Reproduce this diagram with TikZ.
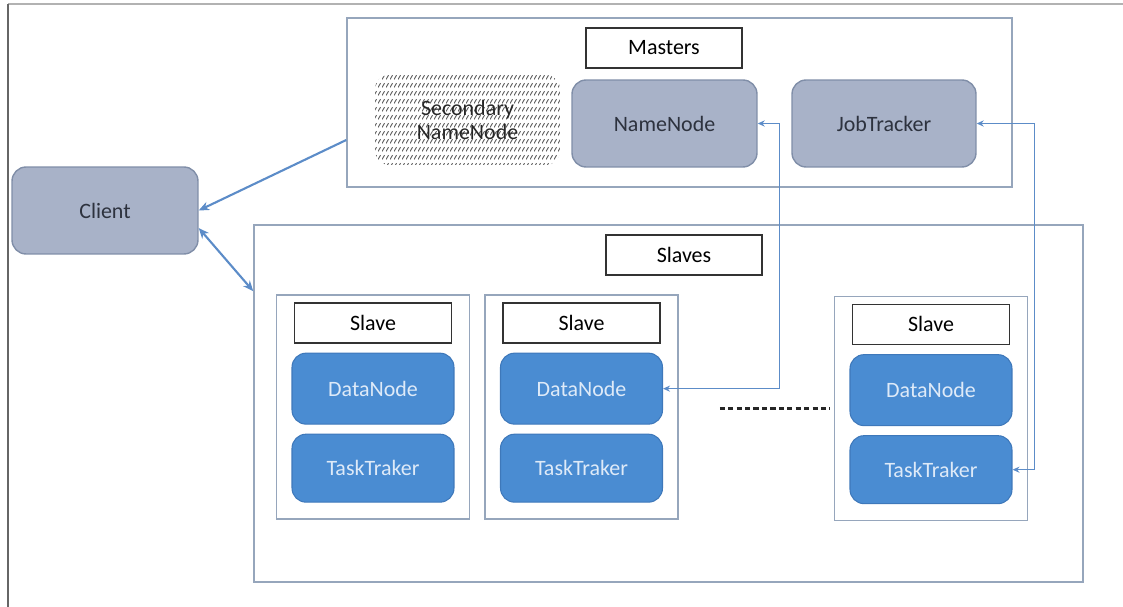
\documentclass[tikz,border=0pt]{standalone}
\usepackage{fontspec}
\setmainfont{Carlito}
\usetikzlibrary{arrows.meta,positioning,patterns.meta}

\definecolor{hostgray}{RGB}{168,178,200}
\definecolor{hostedge}{RGB}{128,142,168}
\definecolor{hosttext}{RGB}{45,50,62}
\definecolor{daemonblue}{RGB}{74,140,210}
\definecolor{daemonedge}{RGB}{62,120,186}
\definecolor{daemontext}{RGB}{222,234,248}
\definecolor{groupedge}{RGB}{150,166,188}
\definecolor{linkblue}{RGB}{92,140,200}

% rows of short slanted strokes for the standby master
\tikzdeclarepattern{
  name=slantrows,
  type=uncolored,
  bounding box={(0pt,0pt) and (2.2pt,4.8pt)},
  tile size={(2.2pt,4.8pt)},
  code={\draw[line width=0.55pt] (0pt,0.9pt) -- (1.5pt,3.5pt);}
}

\tikzset{
  host/.style={rectangle, rounded corners=8pt, draw=hostedge, line width=0.8pt,
    fill=hostgray, text=hosttext, minimum width=3.7cm, minimum height=1.74cm},
  standby/.style={rectangle, rounded corners=8pt, pattern=slantrows,
    pattern color=black!62, text=black!85, align=center,
    minimum width=3.7cm, minimum height=1.8cm},
  daemon/.style={rectangle, rounded corners=8pt, draw=daemonedge, line width=0.6pt,
    fill=daemonblue, text=daemontext, minimum width=3.24cm, minimum height=1.42cm},
  tag/.style={rectangle, draw=black!80, line width=0.8pt, fill=white,
    minimum width=3.12cm, minimum height=0.8cm},
  group/.style={rectangle, draw=groupedge, line width=0.9pt},
  tolink/.style={draw=linkblue, line width=1.2pt, arrows={Stealth[length=6pt,width=5pt]-}},
  bothlink/.style={draw=linkblue, line width=1.2pt,
    arrows={Stealth[length=6pt,width=5pt]-Stealth[length=6pt,width=5pt]}},
  wire/.style={draw=linkblue, line width=0.8pt,
    arrows={Stealth[length=4pt,width=3.5pt]-Stealth[length=4pt,width=3.5pt]}}
}

\begin{document}
\begin{tikzpicture}[x=0.02cm,y=-0.02cm,font=\fontsize{12.5}{14}\selectfont]
  \useasboundingbox (0,0) rectangle (1123,607);

  % page frame
  \draw[black!30,line width=0.6pt] (8,4) -- (1123,4);
  \draw[black!60,line width=0.6pt] (8,4) -- (8,607);

  \node[host, minimum width=3.72cm] (client) at (105,210.5) {Client};

  % masters
  \node[group, minimum width=13.3cm, minimum height=3.38cm] (masters) at (679.5,102.5) {};
  \node[tag] (mtag) at (664,48) {Masters};
  \node[standby] (snn) at (467.5,120) {Secondary\\NameNode};
  \node[host] (nn) at (664.5,123.5) {NameNode};
  \node[host, minimum width=3.68cm] (jt) at (884,123.5) {JobTracker};

  % slaves
  \node[group, minimum width=16.58cm, minimum height=7.14cm] (slaves) at (668.5,403.5) {};
  \node[tag] (stag) at (684,255) {Slaves};

  \foreach \i/\x/\y in {1/373/407, 2/581.5/407, 3/931/408.5} {
    \node[group, minimum width=3.86cm, minimum height=4.48cm] (sbox\i) at (\x,\y) {};
    \node[tag, minimum width=3.14cm, below=0.16cm of sbox\i.north] (slv\i) {Slave};
    \node[daemon, below=0.18cm of slv\i] (dn\i) {DataNode};
    \node[daemon, minimum height=1.36cm, below=0.18cm of dn\i] (tt\i) {TaskTraker};
  }

  \draw[black!85, line width=1.3pt, dash pattern=on 3pt off 1.8pt]
    ([xshift=-2.28cm]sbox3.west) -- ([xshift=-0.08cm]sbox3.west);

  % client links
  \draw[tolink] (client.east) -- ([yshift=-0.75cm]masters.west);
  \draw[bothlink] ([yshift=-0.35cm]client.east) -- ([yshift=-1.34cm]slaves.north west);

  % master to slave links
  \draw[wire] (nn.east) -- ++(22,0) |- (dn2.east);
  \draw[wire] (jt.east) -- ++(58,0) |- (tt3.east);
\end{tikzpicture}
\end{document}
